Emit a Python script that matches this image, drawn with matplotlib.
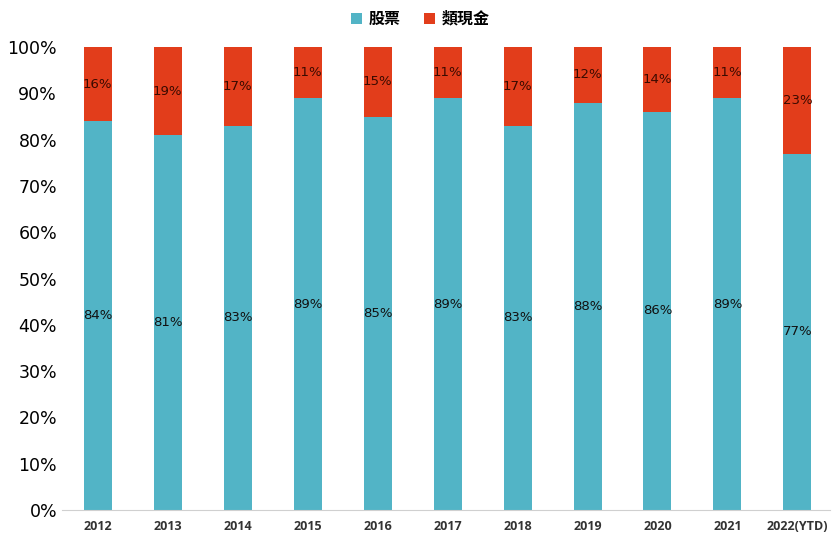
import matplotlib.pyplot as plt
import numpy as np

years = ['2012', '2013', '2014', '2015', '2016', '2017', '2018', '2019', '2020', '2021', '2022(YTD)']
stock = [84, 81, 83, 89, 85, 89, 83, 88, 86, 89, 77]
cash = [16, 19, 17, 11, 15, 11, 17, 12, 14, 11, 23]

plt.rcParams['font.family'] = ['DejaVu Sans', 'Noto Sans CJK TC']

fig = plt.figure(figsize=(8.32, 5.42), dpi=100)
ax = fig.add_axes([0.0745, 0.059, 0.9235, 0.854])

x = np.arange(len(years))
c_stock = '#52B4C6'
c_cash = '#E23D1B'
b1 = ax.bar(x, stock, width=0.4, color=c_stock, label='股票')
b2 = ax.bar(x, cash, width=0.4, bottom=stock, color=c_cash, label='類現金')

for i in range(len(years)):
    ax.text(x[i], stock[i] / 2, f'{stock[i]}%', ha='center', va='center', fontsize=9.5, color='#111111')
    ax.text(x[i], stock[i] + cash[i] / 2, f'{cash[i]}%', ha='center', va='center', fontsize=9.5, color='#3a0a00')

ax.set_xlim(-0.51, 10.47)
ax.set_ylim(0, 100)
ax.set_yticks(range(0, 101, 10))
ax.set_yticklabels([f'{v}%' for v in range(0, 101, 10)], fontsize=12.5)
ax.set_xticks(x)
ax.set_xticklabels(years, fontsize=9, fontweight='bold', color='#333333', family='Open Sans')
ax.tick_params(length=0)
ax.tick_params(axis='x', pad=7)
for s in ['top', 'right', 'left']:
    ax.spines[s].set_visible(False)
ax.spines['bottom'].set_color('#d0d0d0')

fig.legend(handles=[b1, b2], loc='center', bbox_to_anchor=(0.505, 0.965), ncol=2, frameon=False,
           prop={'family': 'Noto Sans CJK TC', 'size': 11.5, 'weight': 'bold'},
           handlelength=0.7, handleheight=0.7, handletextpad=0.4, columnspacing=1.5)

fig.savefig('out.png', dpi=100)
